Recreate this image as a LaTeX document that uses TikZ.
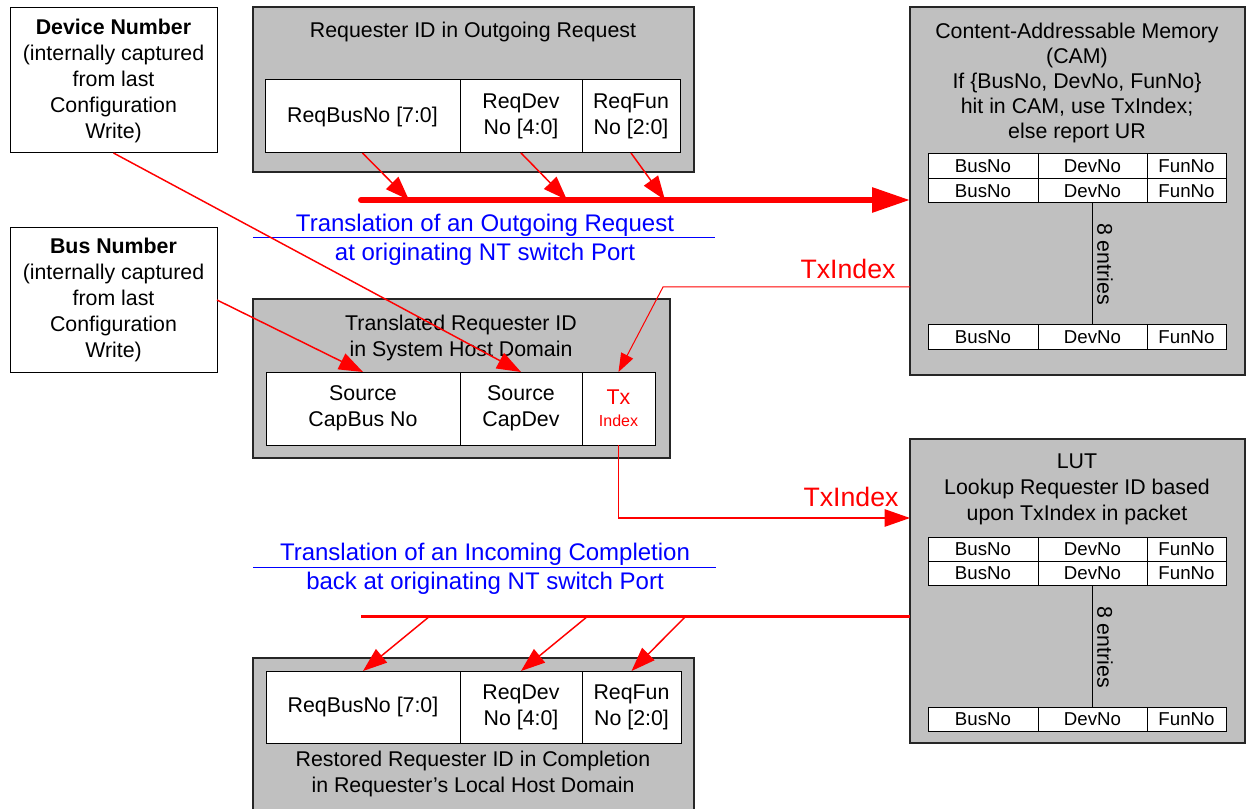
\documentclass[tikz,border=0pt]{standalone}
\usepackage{fontspec}
\setmainfont{Liberation Sans}
\usetikzlibrary{arrows.meta,calc}
\definecolor{boxgray}{RGB}{192,192,192}
\newcommand{\fs}[2]{\fontsize{#1pt}{#2pt}\selectfont}
\begin{document}
\begin{tikzpicture}[x=0.75pt,y=-0.75pt,
 span/.style n args={4}{at={(#1,#2)}, anchor=north west, outer sep=0pt,
   minimum width={(#3-#1)*0.75pt}, minimum height={(#4-#2)*0.75pt}},
 gbox/.style={draw=black!85, fill=boxgray, line width=0.9pt, inner sep=0pt},
 wbox/.style={draw=black, fill=white, line width=0.75pt, inner sep=0pt, align=center, font=\fs{16}{19.5}},
 cell/.style={draw=black, fill=white, line width=0.75pt, inner sep=0pt, font=\fs{14}{16}},
 txt/.style={align=center, inner sep=0pt, font=\fs{16}{18.75}},
 bluetxt/.style={text=blue, inner sep=0pt, font=\fs{18}{21}},
 redtxt/.style={text=red, inner sep=0pt, font=\fs{20}{24}},
 feed/.style={red, line width=1.1pt, -{Triangle[length=18pt,width=13pt]}},
 thinfeed/.style={red, line width=0.75pt, -{Triangle[length=14pt,width=10pt]}},
 sep/.style={draw=black, line width=0.75pt},
]
\useasboundingbox (0,0) rectangle (1246,809);
\clip (0,0) rectangle (1246,809);

% configuration boxes
\node[wbox, span={10}{8}{217}{153}] (dev) {\textbf{Device Number}\\(internally captured\\from last\\Configuration\\Write)};
\node[wbox, span={10}{228}{217}{372}] (bus) {\textbf{Bus Number}\\(internally captured\\from last\\Configuration\\Write)};

% outgoing request box
\node[gbox, span={253}{7}{694}{172}] (req) {};
\node[txt] (reqt) at (473,32) {Requester ID in Outgoing Request};
\node[wbox, span={265}{80}{460}{153}] (rb) {ReqBusNo [7:0]};
\node[wbox, span={460}{80}{582}{153}] (rd) {ReqDev\\No [4:0]};
\node[wbox, span={582}{80}{680}{153}] (rf) {ReqFun\\No [2:0]};

% CAM
\node[gbox, span={910}{7}{1245}{375}] (cam) {};
\node[txt] (camt) at (1077,83) {Content-Addressable Memory\\(CAM)\\If \{BusNo, DevNo, FunNo\}\\hit in CAM, use TxIndex;\\else report UR};
\node[cell, span={928}{154}{1038}{179}] (ca1) {BusNo};
\node[cell, span={1038}{154}{1147}{179}] (ca2) {DevNo};
\node[cell, span={1147}{154}{1226}{179}] (ca3) {FunNo};
\node[cell, span={928}{179}{1038}{203}] (cb1) {BusNo};
\node[cell, span={1038}{179}{1147}{203}] (cb2) {DevNo};
\node[cell, span={1147}{179}{1226}{203}] (cb3) {FunNo};
\node[cell, span={928}{325}{1038}{349}] (cc1) {BusNo};
\node[cell, span={1038}{325}{1147}{349}] (cc2) {DevNo};
\node[cell, span={1147}{325}{1226}{349}] (cc3) {FunNo};
\draw[sep] (cb2.south) -- (cc2.north);
\node[txt, rotate=-90] (cament) at (1105,264) {8 entries};

% translated box
\node[gbox, span={253}{299}{670}{458}] (trq) {};
\node[txt, font=\fs{16}{19.5}] (trqt) at (461,338) {Translated Requester ID\\in System Host Domain};
\node[wbox, span={266}{372}{460}{445}] (scb) {Source\\CapBus No};
\node[wbox, span={460}{372}{582}{445}] (scd) {Source\\CapDev};
\node[wbox, span={582}{372}{655}{445}, text=red] (tx) {Tx\\[-3pt]{\fs{12}{14}Index}};

% LUT
\node[gbox, span={910}{439}{1245}{743}] (lut) {};
\node[txt, font=\fs{16}{19.5}] (lutt) at (1077,489) {LUT\\Lookup Requester ID based\\upon TxIndex in packet};
\node[cell, span={928}{537}{1038}{561}] (la1) {BusNo};
\node[cell, span={1038}{537}{1147}{561}] (la2) {DevNo};
\node[cell, span={1147}{537}{1226}{561}] (la3) {FunNo};
\node[cell, span={928}{561}{1038}{585}] (lb1) {BusNo};
\node[cell, span={1038}{561}{1147}{585}] (lb2) {DevNo};
\node[cell, span={1147}{561}{1226}{585}] (lb3) {FunNo};
\node[cell, span={928}{707}{1038}{731}] (lc1) {BusNo};
\node[cell, span={1038}{707}{1147}{731}] (lc2) {DevNo};
\node[cell, span={1147}{707}{1226}{731}] (lc3) {FunNo};
\draw[sep] (lb2.south) -- (lc2.north);
\node[txt, rotate=-90] (lutent) at (1105,647) {8 entries};

% restored box
\node[gbox, span={253}{658}{694}{830}] (rst) {};
\node[wbox, span={266}{671}{460}{743}] (sb) {ReqBusNo [7:0]};
\node[wbox, span={460}{671}{582}{743}] (sd) {ReqDev\\No [4:0]};
\node[wbox, span={582}{671}{681}{743}] (sf) {ReqFun\\No [2:0]};
\node[txt, font=\fs{16}{19.5}] (rstt) at (473,774) {Restored Requester ID in Completion\\in Requester’s Local Host Domain};

% blue captions
\node[bluetxt] (out1) at (485,225) {Translation of an Outgoing Request};
\node[bluetxt] (out2) at (485,254) {at originating NT switch Port};
\draw[blue, line width=0.75pt] (253,238) -- (715,238);
\node[bluetxt] (in1) at (485,554) {Translation of an Incoming Completion};
\node[bluetxt] (in2) at (485,583) {back at originating NT switch Port};
\draw[blue, line width=0.75pt] (253,567) -- (716,567);

% red labels
\node[redtxt] (txl1) at (848,269) {TxIndex};
\node[redtxt] (txl2) at (851,497) {TxIndex};

% outgoing bus
\coordinate (ob0) at (361,200);
\coordinate (ob1) at (409,200);
\coordinate (ob2) at (567,200);
\coordinate (ob3) at (665,200);
\draw[red, line width=4.5pt, line cap=round, -{Triangle[length=28.5pt,width=18pt]}] (ob0) -- (cam.west |- ob0);
\draw[feed] (rb.south) -- (ob1);
\draw[feed] (rd.south) -- (ob2);
\draw[feed] (rf.south) -- (ob3);

% configuration feeds
\draw[feed] (dev.south) -- (scd.north);
\draw[feed] (bus.east) -- (scb.north);

% TxIndex from CAM
\coordinate (camtx) at (910,287);
\coordinate (txbend) at (663,287);
\draw[thinfeed] (camtx) -- (txbend) -- (tx.north);

% TxIndex to LUT
\coordinate (lutin) at (910,518);
\draw[red, line width=1.1pt, -{Triangle[length=19pt,width=13pt]}] (tx.south) |- (lutin);

% completion bus
\coordinate (lutout) at (910,616);
\coordinate (cl0) at (361,616);
\coordinate (cl1) at (430,616);
\coordinate (cl2) at (588,616);
\coordinate (cl3) at (686,616);
\draw[red, line width=2.25pt] (lutout) -- (cl0);
\draw[feed] (cl1) -- (sb.north);
\draw[feed] (cl2) -- (sd.north);
\draw[feed] (cl3) -- (sf.north);
\end{tikzpicture}
\end{document}
